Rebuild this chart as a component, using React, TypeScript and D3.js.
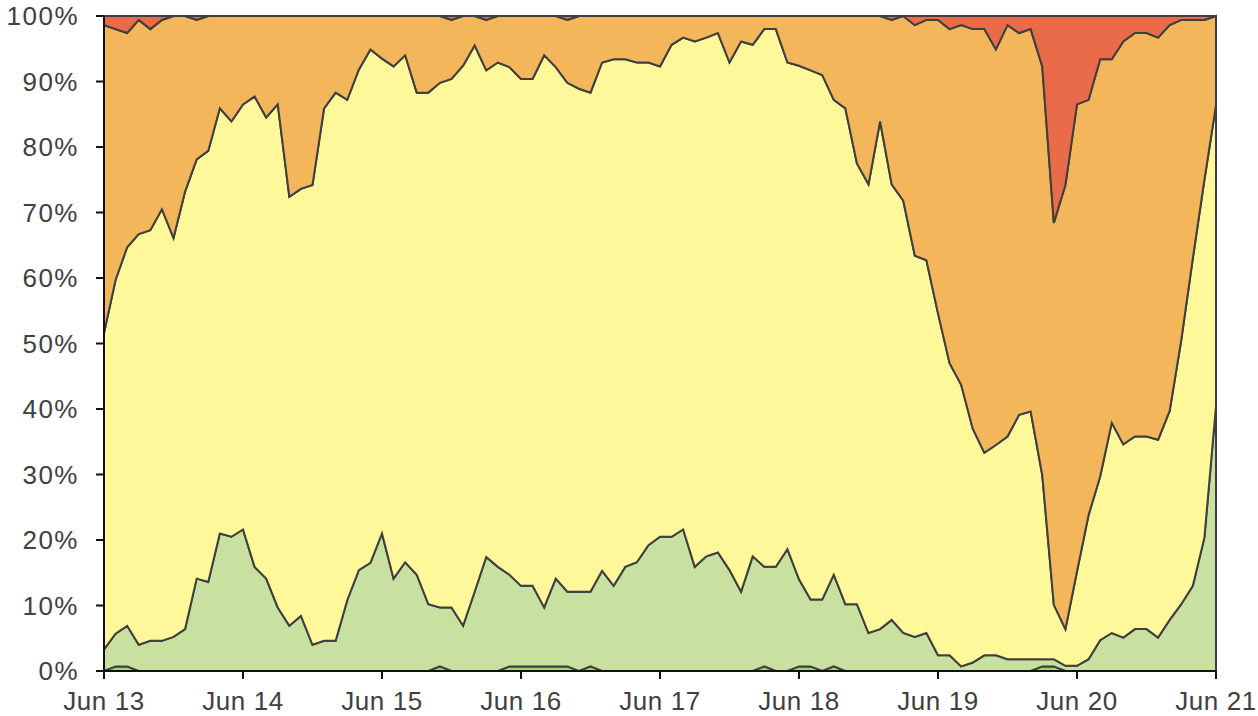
import { useMemo } from "react";
import * as d3 from "d3";

// share of samples per class, every 2 hours from Jun 13 00:00 to Jun 21 00:00
const darkGreen = [
  0, 0.7, 0.7, 0, 0, 0, 0, 0, 0, 0,
  0, 0, 0, 0, 0, 0, 0, 0, 0, 0,
  0, 0, 0, 0, 0, 0, 0, 0, 0, 0.7,
  0, 0, 0, 0, 0, 0.7, 0.7, 0.7, 0.7, 0.7,
  0.7, 0, 0.7, 0, 0, 0, 0, 0, 0, 0,
  0, 0, 0, 0, 0, 0, 0, 0.7, 0, 0,
  0.7, 0.7, 0, 0.7, 0, 0, 0, 0, 0, 0,
  0, 0, 0, 0, 0, 0, 0, 0, 0, 0,
  0, 0.7, 0.7, 0, 0, 0, 0, 0, 0, 0,
  0, 0, 0, 0, 0, 0, 0,
];
const lightGreen = [
  3.3, 5.0, 6.2, 4.0, 4.6, 4.6, 5.2, 6.4, 14.1, 13.6,
  21.0, 20.5, 21.6, 15.9, 14.1, 9.7, 6.9, 8.4, 4.0, 4.6,
  4.6, 10.8, 15.4, 16.5, 21.0, 14.1, 16.6, 14.7, 10.2, 9.0,
  9.7, 6.9, 12.1, 17.4, 15.9, 14.0, 12.3, 12.3, 9.0, 13.4,
  11.4, 12.1, 11.4, 15.3, 13.0, 15.9, 16.6, 19.2, 20.5, 20.5,
  21.6, 15.9, 17.5, 18.1, 15.4, 12.1, 17.5, 15.2, 15.9, 18.6,
  13.3, 10.2, 10.9, 14.0, 10.2, 10.2, 5.8, 6.4, 7.8, 5.8,
  5.2, 5.8, 2.4, 2.4, 0.7, 1.3, 2.4, 2.4, 1.8, 1.8,
  1.8, 1.1, 1.1, 0.8, 0.8, 1.8, 4.7, 5.8, 5.1, 6.4,
  6.4, 5.1, 7.8, 10.2, 13.0, 20.4, 40.5,
];
const yellow = [
  48.3, 54.0, 57.8, 62.7, 62.7, 65.9, 60.9, 66.8, 64.0, 65.8,
  64.9, 63.4, 64.9, 71.8, 70.4, 76.8, 65.5, 65.2, 70.2, 81.3,
  83.7, 76.4, 76.4, 78.4, 72.5, 78.2, 77.4, 73.6, 78.1, 80.1,
  80.7, 85.5, 83.4, 74.3, 77.0, 77.5, 77.4, 77.4, 84.3, 78.1,
  77.7, 76.8, 76.2, 77.6, 80.4, 77.5, 76.3, 73.7, 71.8, 75.1,
  75.1, 80.2, 79.2, 79.3, 77.5, 84.0, 78.1, 82.1, 82.1, 74.3,
  78.4, 80.8, 80.1, 72.5, 75.7, 67.3, 68.5, 77.5, 66.5, 66.0,
  58.2, 56.9, 52.2, 44.6, 43.0, 35.7, 30.9, 32.1, 34.0, 37.3,
  37.8, 28.1, 8.3, 5.6, 14.4, 22.0, 25.0, 32.1, 29.5, 29.4,
  29.4, 30.2, 31.9, 40.3, 50.0, 54.6, 45.9,
];
const orange = [
  47.0, 38.3, 32.7, 32.7, 30.7, 28.9, 33.9, 26.8, 21.3, 20.6,
  14.1, 16.1, 13.5, 12.3, 15.5, 13.5, 27.6, 26.4, 25.8, 14.1,
  11.7, 12.8, 8.2, 5.1, 6.5, 7.7, 6.0, 11.7, 11.7, 10.2,
  9.0, 7.6, 4.5, 7.7, 7.1, 7.8, 9.6, 9.6, 6.0, 7.8,
  9.6, 11.1, 11.7, 7.1, 6.6, 6.6, 7.1, 7.1, 7.7, 4.4,
  3.3, 3.9, 3.3, 2.6, 7.1, 3.9, 4.4, 2.0, 2.0, 7.1,
  7.6, 8.3, 9.0, 12.8, 14.1, 22.5, 25.7, 16.1, 25.1, 28.2,
  35.2, 36.7, 44.8, 51.0, 54.9, 61.0, 64.7, 60.4, 62.8, 58.3,
  58.4, 62.4, 58.3, 67.8, 71.3, 63.4, 63.7, 55.5, 61.5, 61.6,
  61.6, 61.4, 58.9, 48.9, 36.4, 24.4, 13.6,
];
const red = [
  1.4, 2.0, 2.6, 0.6, 2.0, 0.6, 0, 0, 0.6, 0,
  0, 0, 0, 0, 0, 0, 0, 0, 0, 0,
  0, 0, 0, 0, 0, 0, 0, 0, 0, 0,
  0.6, 0, 0, 0.6, 0, 0, 0, 0, 0, 0,
  0.6, 0, 0, 0, 0, 0, 0, 0, 0, 0,
  0, 0, 0, 0, 0, 0, 0, 0, 0, 0,
  0, 0, 0, 0, 0, 0, 0, 0, 0.6, 0,
  1.4, 0.6, 0.6, 2.0, 1.4, 2.0, 2.0, 5.1, 1.4, 2.6,
  2.0, 7.7, 31.6, 25.8, 13.5, 12.8, 6.6, 6.6, 3.9, 2.6,
  2.6, 3.3, 1.4, 0.6, 0.6, 0.6, 0,
];

const START = new Date(2023, 5, 13);
const END = new Date(2023, 5, 21);
const STEP_HOURS = 2;

const KEYS = ["darkGreen", "lightGreen", "yellow", "orange", "red"];
const COLORS: Record<string, string> = {
  darkGreen: "#a3d46c",
  lightGreen: "#c8e1a0",
  yellow: "#fef89b",
  orange: "#f3b65a",
  red: "#e96b4a",
};

const W = 1258;
const H = 716;
const M = { top: 16, right: 42, bottom: 45, left: 104 };

export default function App() {
  const rows = useMemo(
    () =>
      darkGreen.map((_, i) => ({
        t: d3.timeHour.offset(START, i * STEP_HOURS),
        darkGreen: darkGreen[i],
        lightGreen: lightGreen[i],
        yellow: yellow[i],
        orange: orange[i],
        red: red[i],
      })),
    []
  );

  const x = d3.scaleTime().domain([START, END]).range([M.left, W - M.right]);
  const y = d3.scaleLinear().domain([0, 1]).range([H - M.bottom, M.top]);

  const series = d3
    .stack<any>()
    .keys(KEYS)
    .offset(d3.stackOffsetExpand)(rows);

  const area = d3
    .area<any>()
    .x((d) => x(d.data.t))
    .y0((d) => y(d[0]))
    .y1((d) => y(d[1]));

  const xTicks = x.ticks(d3.timeDay.every(1) as any);
  const yTicks = d3.range(0, 11).map((v) => v / 10);
  const fmtX = d3.timeFormat("%b %d");
  const fmtY = d3.format(".0%");
  const x0 = M.left;
  const y0 = H - M.bottom;

  return (
    <div style={{ position: "absolute", left: 0, top: 0 }}>
      <svg width={W} height={H} style={{ display: "block", background: "#fff" }}>
        <g>
          {series.map((s) => (
            <path
              key={s.key}
              d={area(s) || ""}
              fill={COLORS[s.key]}
              stroke="#3f3f3f"
              strokeWidth={2}
            />
          ))}
        </g>
        <g fontFamily="'Liberation Sans', Arial, sans-serif" fontSize={26} fill="#404040">
          <line x1={x0} x2={x0} y1={M.top} y2={y0 + 1} stroke="#111" strokeWidth={2} />
          <line x1={x0 - 1} x2={W - M.right} y1={y0} y2={y0} stroke="#111" strokeWidth={2} />
          {yTicks.map((v) => (
            <g key={v}>
              <line x1={x0 - 8} x2={x0} y1={y(v)} y2={y(v)} stroke="#111" strokeWidth={2} />
              <text
                x={x0 - 25}
                y={y(v)}
                textAnchor="end"
                dominantBaseline="central"
                letterSpacing={1.5}
              >
                {fmtY(v)}
              </text>
            </g>
          ))}
          {xTicks.map((t) => (
            <g key={+t}>
              <line x1={x(t)} x2={x(t)} y1={y0} y2={y0 + 8} stroke="#111" strokeWidth={2} />
              <text x={x(t)} y={y0 + 39} textAnchor="middle" letterSpacing={0.6}>
                {fmtX(t).replace(/ 0/, " ")}
              </text>
            </g>
          ))}
        </g>
      </svg>
    </div>
  );
}
